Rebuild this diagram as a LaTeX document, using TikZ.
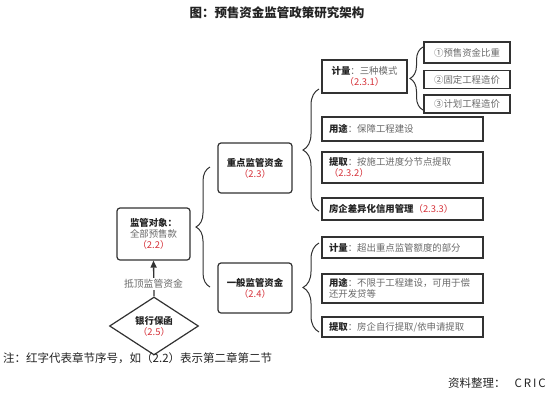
\documentclass[tikz,border=0pt]{standalone}
\usepackage{fontspec}
\setmainfont{Noto Sans CJK SC}
\usetikzlibrary{decorations.pathreplacing,arrows.meta,shapes.geometric}
\definecolor{edge}{RGB}{50,50,50}
\definecolor{redt}{RGB}{214,50,58}
\definecolor{grayt}{RGB}{105,105,105}
\definecolor{darkt}{RGB}{35,35,35}
\newcommand{\hd}[1]{{\bfseries\color{darkt}#1}}
\newcommand{\rd}[1]{{\color{redt}#1}}
\begin{document}
\begin{tikzpicture}[x=1pt,y=-1pt,
  every node/.style={font=\fontsize{9.4}{11}\selectfont, text=grayt},
  sbox/.style={draw=edge, line width=1.2pt, fill=white, inner ysep=0pt},
  wbox/.style={sbox, inner xsep=7pt, text width=147pt, minimum height=#1, align=left},
  cbox/.style={sbox, inner xsep=2pt, minimum width=86pt, minimum height=#1, align=center},
  rbox/.style={sbox, rounded corners=3pt, inner xsep=2pt, minimum width=74pt, minimum height=50pt, align=center},
  brc/.style={draw=edge, line width=1pt, decorate, decoration={brace, amplitude=#1}},
  arr/.style={draw=edge, line width=1.3pt, -{Triangle[length=7pt,width=6pt]}}
]
\useasboundingbox (0,0) rectangle (550,413);

% title
\node[font=\fontsize{12.5}{14}\selectfont\bfseries, text=darkt] (title) at (277,13) {图：预售资金监管政策研究架构};

% left part
\node[rbox, minimum width=73pt, minimum height=52pt] (jg) at (153.5,234) {\hd{监管对象：}\\全部预售款\\\rd{（2.2）}};
\node[draw=edge, line width=1.2pt, fill=white, shape=diamond, aspect=1.53, minimum width=89pt, minimum height=58pt, inner sep=0pt, align=center] (bh) at (154,326) {\hd{银行保函}\\\rd{（2.5）}};
\draw[arr] (bh.north) -- (jg.south);
\node[fill=white, inner sep=1pt, font=\fontsize{9.8}{11}\selectfont] (dd) at (153.5,284) {抵顶监管资金};

\node[rbox] (zd) at (255,168) {\hd{重点监管资金}\\\rd{（2.3）}};
\node[rbox] (yb) at (255,288) {\hd{一般监管资金}\\\rd{（2.4）}};

\coordinate (bl1) at (210,287);
\coordinate (bl2) at (210,167);
\draw[brc=14pt] (bl1) -- (bl2);

% top group
\node[cbox=33pt, minimum width=85pt] (jl) at (364.5,76.5) {\hd{计量}：三种模式\\\rd{（2.3.1）}};
\node[cbox=21pt] (o1) at (467,52.5) {①预售资金比重};
\node[cbox=18pt] (o2) at (467,79.5) {②固定工程造价};
\node[cbox=18pt] (o3) at (467,104) {③计划工程造价};
\coordinate (br1) at (423,110);
\coordinate (br2) at (423,47);
\draw[brc=13pt] (br1) -- (br2);

\node[wbox=24pt] (yt) at (402.5,129) {\hd{用途}：保障工程建设};
\node[wbox=31pt] (tq) at (402.5,167.5) {\hd{提取}：按施工进度分节点提取\\\rd{（2.3.2）}};
\node[wbox=22pt] (fq) at (402.5,209) {\hd{房企差异化信用管理}\rd{（2.3.3）}};
\coordinate (bt1) at (319,211);
\coordinate (bt2) at (319,89);
\draw[brc=16pt] (bt1) -- (bt2);

% bottom group
\node[wbox=21pt] (jl2) at (402.5,247.5) {\hd{计量}：超出重点监管额度的部分};
\node[wbox=29pt] (yt2) at (402.5,288.5) {\hd{用途}：不限于工程建设，可用于偿\\还开发贷等};
\node[wbox=20pt] (tq2) at (402.5,327) {\hd{提取}：房企自行提取/依申请提取};
\coordinate (bb1) at (319,332);
\coordinate (bb2) at (319,243);
\draw[brc=16pt] (bb1) -- (bb2);

% notes
\node[anchor=west, font=\fontsize{11.5}{13}\selectfont, text=darkt, inner sep=0pt] (note) at (3,358) {注：红字代表章节序号，如（2.2）表示第二章第二节};
\node[anchor=east, font=\fontsize{11.5}{13}\selectfont, text=darkt, inner sep=0pt] (src) at (546,383) {资料整理：\hspace{0.8em}C\,R\,I\,C};
\end{tikzpicture}
\end{document}
